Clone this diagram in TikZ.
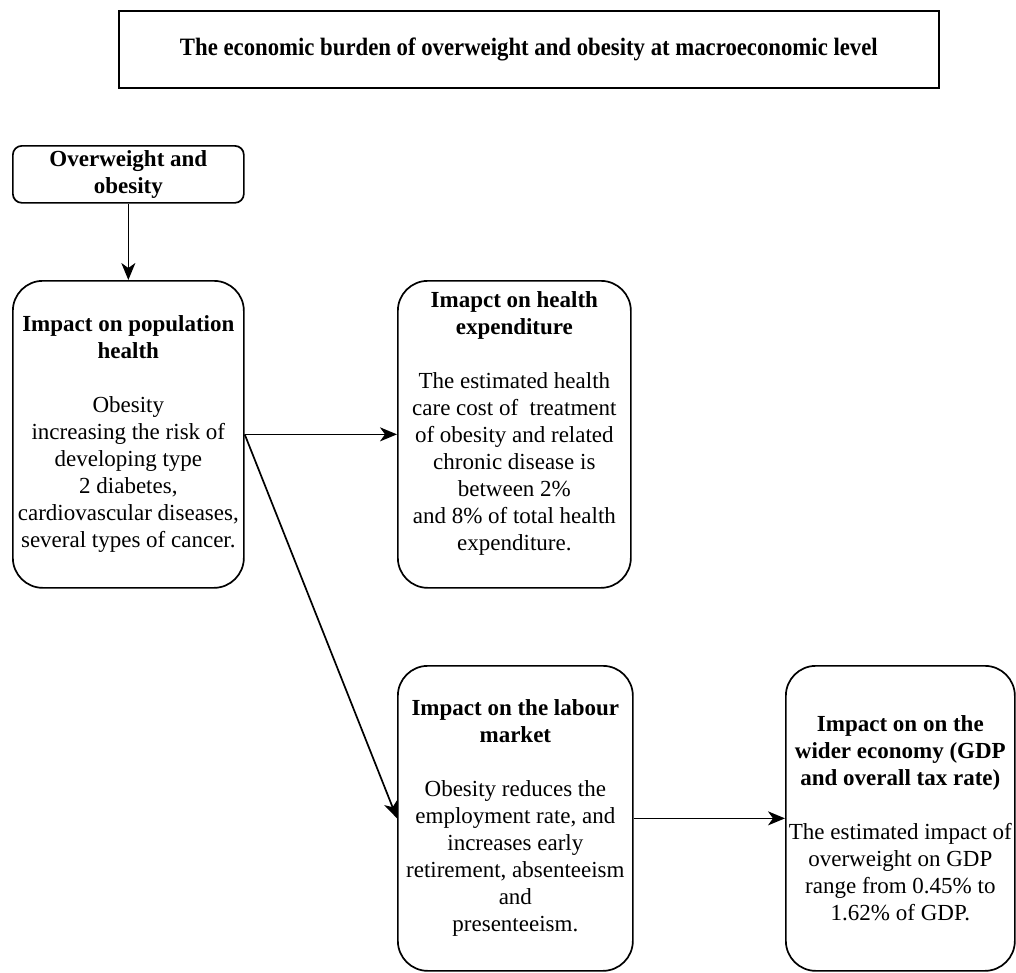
\documentclass[tikz,border=0pt]{standalone}
\usepackage{fontspec}
\usepackage{graphicx}
\setmainfont{Liberation Serif}
\usetikzlibrary{arrows.meta}

\tikzset{
  panel/.style={draw, line width=1.7pt, rounded corners=30pt, inner sep=0pt,
    align=center, anchor=north west, font=\fontsize{23}{27}\selectfont},
  flow/.style={-{Stealth[length=17pt,width=14pt,inset=5pt]}, line width=1.7pt},
}

\begin{document}
\begin{tikzpicture}[x=1pt,y=-1pt]
  % page frame
  \fill[white] (0,0) rectangle (1016,972);
  \useasboundingbox (0,0) rectangle (1016,972);

  % heading, set in a narrowed bold face
  \node[draw, line width=1.7pt, inner sep=0pt, anchor=north west,
        minimum width=820pt, minimum height=77pt,
        font=\bfseries\fontsize{25}{29}\selectfont] (title) at (118,10)
    {\scalebox{0.91}[1]{The economic burden of overweight and obesity at macroeconomic level}};

  % source box
  \node[panel, rounded corners=9pt, minimum width=231pt, minimum height=57pt] (ow) at (12,145)
    {\textbf{Overweight and}\\\textbf{obesity}};

  % impact boxes
  \node[panel, minimum width=231pt, minimum height=307pt] (pop) at (12,280)
    {\textbf{Impact on population}\\\textbf{health}\\[27pt]
     Obesity\\increasing the risk of\\developing type\\2 diabetes,\\
     cardiovascular diseases,\\several types of cancer.};

  \node[panel, minimum width=233pt, minimum height=307pt] (exp) at (397,280)
    {\textbf{Imapct on health}\\\textbf{expenditure}\\[27pt]
     The estimated health\\care cost of~ treatment\\of obesity and related\\
     chronic disease is\\between 2\%\\and 8\% of total health\\expenditure.\\\mbox{}};

  \node[panel, minimum width=235pt, minimum height=305pt] (lab) at (397,665)
    {\textbf{Impact on the labour}\\\textbf{market}\\[27pt]
     Obesity reduces the\\employment rate, and\\increases early\\
     retirement, absenteeism\\and\\presenteeism.};

  \node[panel, minimum width=229pt, minimum height=305pt] (wid) at (785,665)
    {\textbf{Impact on on the}\\\textbf{wider economy (GDP}\\\textbf{and overall tax rate)}\\[27pt]
     The estimated impact of\\overweight on GDP\\range from 0.45\% to\\1.62\% of GDP.};

  % connectors
  \draw[flow] (ow) -- (pop);
  \draw[flow] (pop.east) -- (exp.west);
  \draw[flow] (pop.east) -- (lab.west);
  \draw[flow] (lab.east) -- (wid.west);
\end{tikzpicture}
\end{document}
